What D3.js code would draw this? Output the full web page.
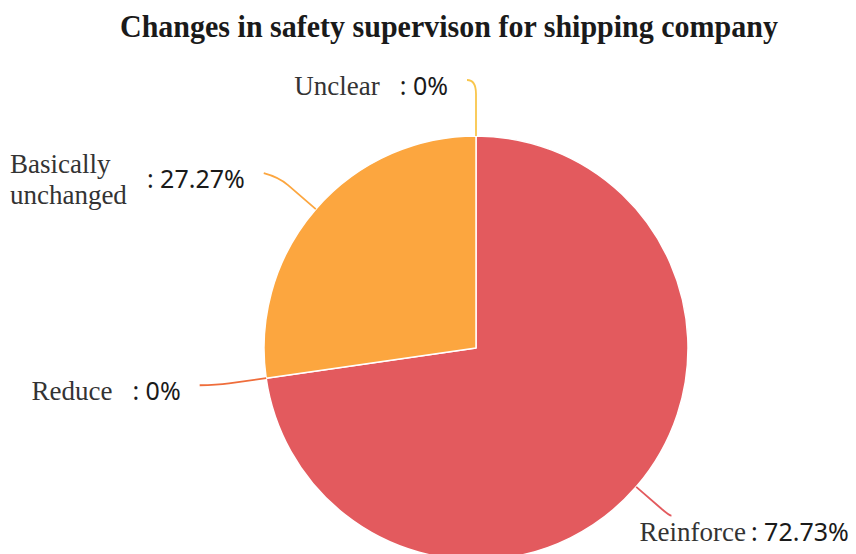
<!DOCTYPE html>
<html>
<head>
<meta charset="utf-8">
<script src="https://cdn.jsdelivr.net/npm/d3@7"></script>
<style>
  html, body { margin: 0; padding: 0; background: #ffffff; }
  svg { display: block; }
</style>
</head>
<body>
<svg id="chart" width="856" height="554"></svg>
<script>
// Survey result: how safety supervision of the shipping company changed
const title = "Changes in safety supervison for shipping company";
const categories = ["Reinforce", "Reduce", "Basically unchanged", "Unclear"];
const values = [72.73, 0, 27.27, 0];

// Styling
const sliceColors = ["#e35a5e", "#ef6d3b", "#fca63f", "#f9c64c"];
const serif = "'Liberation Serif', 'Times New Roman', serif";
const sans = "'Noto Sans', 'Open Sans', sans-serif";

const W = 856, H = 554;
const cx = 476, cy = 348, R = 212;

// Label-line geometry for each slice (first leg, second leg, direction, extra lift)
const lineLayout = {
  "Reinforce":           { len1: 44, len2: 2,  dir: 1,  lift: 0,  place: "below" },
  "Reduce":              { len1: 50, len2: 17, dir: -1, lift: 0 },
  "Basically unchanged": { len1: 49, len2: 15, dir: -1, lift: -4 },
  "Unclear":             { len1: 56, len2: 9,  dir: -1, lift: 0 }
};

const svg = d3.select("#chart");
const color = d3.scaleOrdinal().domain(categories).range(sliceColors);

svg.append("text")
  .attr("x", 449).attr("y", 37)
  .attr("text-anchor", "middle")
  .attr("textLength", 658)
  .attr("lengthAdjust", "spacingAndGlyphs")
  .style("font-family", serif)
  .style("font-weight", "bold")
  .style("font-size", "31px")
  .style("fill", "#1a1a1a")
  .text(title);

const data = categories.map((c, i) => ({ name: c, value: values[i] }));
const pie = d3.pie().sort(null).value(d => d.value);
const arcs = pie(data);
const arc = d3.arc().innerRadius(0).outerRadius(R);

const g = svg.append("g").attr("transform", `translate(${cx},${cy})`);

g.selectAll("path.slice")
  .data(arcs.filter(a => a.endAngle > a.startAngle))
  .join("path")
  .attr("class", "slice")
  .attr("d", arc)
  .attr("fill", d => color(d.data.name))
  .attr("stroke", "#ffffff")
  .attr("stroke-width", 1.5)
  .attr("stroke-linejoin", "round");

const polar = (angle, r) => [r * Math.sin(angle), -r * Math.cos(angle)];

arcs.forEach(a => {
  const cfg = lineLayout[a.data.name];
  const mid = (a.startAngle + a.endAngle) / 2;
  const p0 = polar(mid, R);
  const p1 = polar(mid, R + cfg.len1);
  const p2 = [p1[0] + cfg.dir * cfg.len2, p1[1] + cfg.lift];
  const pm = [p0[0] + 0.75 * (p1[0] - p0[0]), p0[1] + 0.75 * (p1[1] - p0[1])];

  g.append("path")
    .attr("d", `M${p0[0]},${p0[1]}L${pm[0]},${pm[1]}Q${p1[0]},${p1[1]} ${p2[0]},${p2[1]}`)
    .attr("fill", "none")
    .attr("stroke", color(a.data.name))
    .attr("stroke-width", 1.8);

  const nameLines = a.data.name.length > 12 ? a.data.name.split(" ") : [a.data.name];
  const valueText = ": " + String(a.data.value) + "%";
  const lineH = 31;

  const lbl = g.append("g");
  const valueEl = lbl.append("text")
    .style("font-family", sans).style("font-size", "25px").style("fill", "#1a1a1a")
    .text(valueText);
  const nameEl = lbl.append("text")
    .style("font-family", serif).style("font-size", "27px").style("fill", "#333333");
  nameLines.forEach((t, i) => {
    nameEl.append("tspan").attr("x", 0)
      .attr("dy", i === 0 ? 0 : lineH)
      .text(t);
  });
  const valueW = valueEl.node().getComputedTextLength();
  const nameW = d3.max(nameEl.selectAll("tspan").nodes(), n => n.getComputedTextLength());

  if (cfg.place === "below") {
    const x0 = p2[0] - 32, base = p2[1] + 25;
    nameEl.attr("transform", `translate(${x0},${base})`);
    valueEl.attr("x", x0 + nameW + 5).attr("y", base);
  } else {
    const base = p2[1] + 15;
    const valueX = p2[0] - 19 - valueW;
    valueEl.attr("x", valueX).attr("y", base);
    const nameX = valueX - 20 - nameW;
    const firstBase = base - (nameLines.length - 1) * lineH / 2;
    nameEl.attr("transform", `translate(${nameX},${firstBase})`);
  }
});
</script>
</body>
</html>
